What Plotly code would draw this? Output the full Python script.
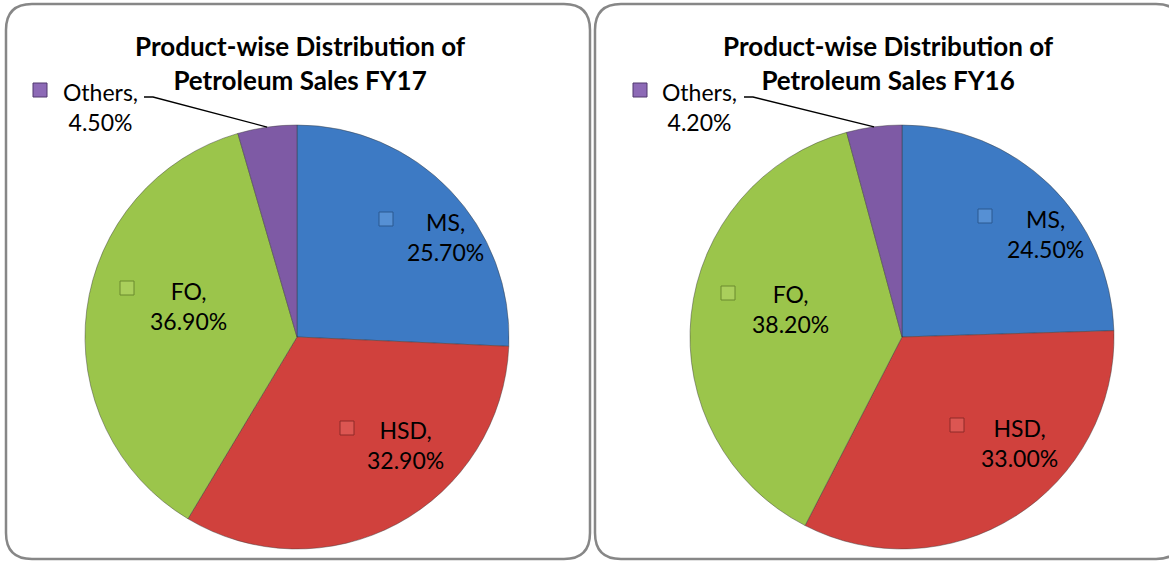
import math
import plotly.graph_objects as go

# data
products = ["MS", "HSD", "FO", "Others"]
sales_fy17 = [25.7, 32.9, 36.9, 4.5]
sales_fy16 = [24.5, 33.0, 38.2, 4.2]
titles = ["Product-wise Distribution of<br>Petroleum Sales FY17",
          "Product-wise Distribution of<br>Petroleum Sales FY16"]

colors = ["#3D7AC4", "#D0413D", "#9BC54B", "#7E5AA5"]
marker_fill = ["#5690D4", "#DC5652", "#AACF5C", "#8D6AB6"]
marker_edge = ["#2A5890", "#8E2B28", "#6A8A2E", "#50396F"]

W, H = 1169, 562
FONT = "Lato"


def fx(px):
    return px / W


def fy(py):
    return 1 - py / H


def rounded_rect(x0, y0, x1, y1, r):
    p = [
        (x0 + r, y0), (x1 - r, y0), (x1, y0), (x1, y0 + r),
        (x1, y1 - r), (x1, y1), (x1 - r, y1),
        (x0 + r, y1), (x0, y1), (x0, y1 - r),
        (x0, y0 + r), (x0, y0), (x0 + r, y0),
    ]
    s = lambda q: f"{fx(q[0]):.5f},{fy(q[1]):.5f}"
    return (f"M {s(p[0])} L {s(p[1])} Q {s(p[2])} {s(p[3])} L {s(p[4])} "
            f"Q {s(p[5])} {s(p[6])} L {s(p[7])} Q {s(p[8])} {s(p[9])} "
            f"L {s(p[10])} Q {s(p[11])} {s(p[12])} Z")


# panel / pie geometry in pixels
panels = [(6, 4, 590, 559), (595, 4, 1182, 559)]
centers = [(297, 337), (902, 337)]
radius = 212
title_x = [300, 888]
# label text centre and legend-key square for each slice
label_pos = [
    [(445, 237), (405, 445), (188, 306), (100, 107)],
    [(1045, 234), (1020, 443), (790, 309), (700, 107)],
]
key_pos = [
    [(386, 219), (347, 428), (127, 288), (40, 90)],
    [(985, 216), (957, 425), (728, 293), (640, 90)],
]

fig = go.Figure()
shapes = []
annotations = []

for i, vals in enumerate([sales_fy17, sales_fy16]):
    cx, cy = centers[i]
    fig.add_trace(go.Pie(
        labels=products, values=vals, sort=False, direction="clockwise",
        rotation=0, textinfo="none", hoverinfo="label+percent",
        marker=dict(colors=colors, line=dict(color="rgba(60,60,60,0.45)", width=1)),
        domain=dict(x=[fx(cx - radius), fx(cx + radius)],
                    y=[fy(cy + radius), fy(cy - radius)]),
        showlegend=False,
    ))

    x0, y0, x1, y1 = panels[i]
    shapes.append(dict(type="path", xref="paper", yref="paper",
                       path=rounded_rect(x0, y0, x1, y1, 26),
                       line=dict(color="#878787", width=2.5), layer="below"))

    annotations.append(dict(x=fx(title_x[i]), y=fy(63), xref="paper", yref="paper",
                            text=f"<b>{titles[i]}</b>", showarrow=False,
                            font=dict(family=FONT, size=26, color="#000000"),
                            xanchor="center", yanchor="middle"))

    total = sum(vals)
    for j, (name, v) in enumerate(zip(products, vals)):
        lx, ly = label_pos[i][j]
        annotations.append(dict(x=fx(lx), y=fy(ly), xref="paper", yref="paper",
                                text=f"{name},<br>{v:.2f}%", showarrow=False,
                                font=dict(family=FONT, size=23, color="#000000"),
                                xanchor="center", yanchor="middle", align="center"))
        kx, ky = key_pos[i][j]
        shapes.append(dict(type="rect", xref="paper", yref="paper",
                           x0=fx(kx - 7), x1=fx(kx + 7), y0=fy(ky + 7), y1=fy(ky - 7),
                           fillcolor=marker_fill[j],
                           line=dict(color=marker_edge[j], width=1)))

    # leader line for the small "Others" slice, ending on the slice edge
    start = sum(vals[:-1]) / total
    mid = (start + vals[-1] / total / 2) * 2 * math.pi
    ex, ey = cx + radius * math.sin(mid), cy - radius * math.cos(mid)
    lx, ly = label_pos[i][-1]
    sx = lx + 44
    shapes.append(dict(type="path", xref="paper", yref="paper",
                       path=f"M {fx(sx)},{fy(ly - 10)} L {fx(sx + 9)},{fy(ly - 10)} L {fx(ex)},{fy(ey)}",
                       line=dict(color="#000000", width=1.3)))

fig.update_layout(
    width=W, height=H,
    margin=dict(l=0, r=0, t=0, b=0),
    paper_bgcolor="#FFFFFF", plot_bgcolor="#FFFFFF",
    shapes=shapes, annotations=annotations,
    font=dict(family=FONT),
)

fig.write_html("out.html", config={"displayModeBar": False},
               post_script="document.body.style.margin='0';")
